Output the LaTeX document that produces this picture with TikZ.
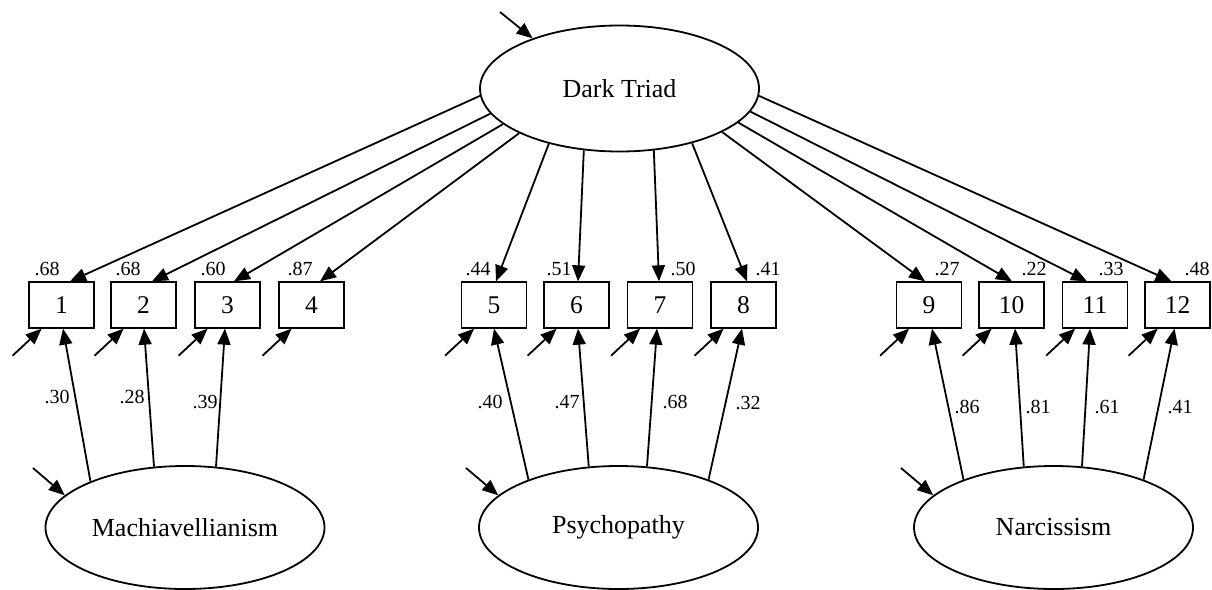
\documentclass[tikz,border=0pt]{standalone}
\usepackage{fontspec}
\setmainfont{Liberation Serif}
\usetikzlibrary{shapes.geometric,arrows.meta}
\begin{document}
\begin{tikzpicture}[x=1pt,y=-1pt,
  lv/.style={ellipse,draw,line width=1.8pt,minimum width=279pt,minimum height=123pt,inner sep=0pt,font=\fontsize{26}{30}\selectfont},
  obs/.style={rectangle,draw,line width=1.8pt,minimum width=65pt,minimum height=45.5pt,inner sep=0pt,font=\fontsize{25.5}{30}\selectfont},
  lab/.style={inner sep=0pt,font=\fontsize{20}{24}\selectfont},
  arr/.style={line width=1.8pt,-{Triangle[length=16pt,width=13pt]}}
]
\useasboundingbox (0,0) rectangle (1212,589);

% latent variables
\node[lv,minimum height=126pt] (dt) at (619.5,88.5) {Dark Triad};
\node[lv] (ma) at (185,527.5) {Machiavellianism};
\node[lv] (ps) at (618.5,527.5) {Psychopathy};
\node[lv] (na) at (1053.5,527.5) {Narcissism};

% observed items
\foreach \i/\x in {1/61.5,2/143.5,3/227.5,4/311.5,5/494,6/576.5,7/660,8/743.5,9/929,10/1011.5,11/1095,12/1177.5}
  \node[obs] (b\i) at (\x,305) {\i};

% Dark Triad loadings
\foreach \i/\a/\o in {1/183/8.5,2/191/8.5,3/197/6.5,4/204/8.5,5/218/2,6/240/1.5,7/299/-1,8/323/3.5,9/337/-4,10/344/0.5,11/350/-8,12/357/-6}
  \draw[arr] (dt.\a) -- ([xshift=\o pt]b\i.north);

% Dark Triad loading values
\node[lab] (t1) at (47,269) {.68};
\node[lab] (t2) at (128,269) {.68};
\node[lab] (t3) at (213,269) {.60};
\node[lab] (t4) at (300,269) {.87};
\node[lab] (t5) at (478,269) {.44};
\node[lab] (t6) at (559,269) {.51};
\node[lab] (t7) at (683,269) {.50};
\node[lab] (t8) at (768,269) {.41};
\node[lab] (t9) at (947,269) {.27};
\node[lab] (t10) at (1034,269) {.22};
\node[lab] (t11) at (1111,269) {.33};
\node[lab] (t12) at (1197,269) {.48};

% specific factor loadings
\foreach \s/\i/\a/\o in {ma/1/154/1.5,ma/2/117/0.5,ma/3/63/-2.5,
                         ps/5/152/0,ps/6/116/1.5,ps/7/65/-3,ps/8/28/-1.5,
                         na/9/152/3,na/10/116/3.5,na/11/65/-5,na/12/28/-3}
  \draw[arr] (\s.\a) -- ([xshift=\o pt]b\i.south);

\node[lab] (s1) at (57,397) {.30};
\node[lab] (s2) at (132,397) {.28};
\node[lab] (s3) at (205,402) {.39};
\node[lab] (s5) at (490,402) {.40};
\node[lab] (s6) at (567,402) {.47};
\node[lab] (s7) at (675,402) {.68};
\node[lab] (s8) at (748,403) {.32};
\node[lab] (s9) at (967,407) {.86};
\node[lab] (s10) at (1038,407) {.81};
\node[lab] (s11) at (1107,407) {.61};
\node[lab] (s12) at (1180,407) {.41};

% item error terms
\foreach \i in {1,...,12}{
  \coordinate (e\i) at ([xshift=-15.5pt,yshift=-27pt]b\i.south west);
  \draw[arr] (e\i) -- ([xshift=13.5pt]b\i.south west);
}

% latent error terms
\coordinate (edt) at (500,12);
\coordinate (ema) at (33,468);
\coordinate (eps) at (466,468);
\coordinate (ena) at (901,468);
\draw[arr] (edt) -- (dt.150);
\draw[arr] (ema) -- (ma.165);
\draw[arr] (eps) -- (ps.165);
\draw[arr] (ena) -- (na.165);
\end{tikzpicture}
\end{document}
